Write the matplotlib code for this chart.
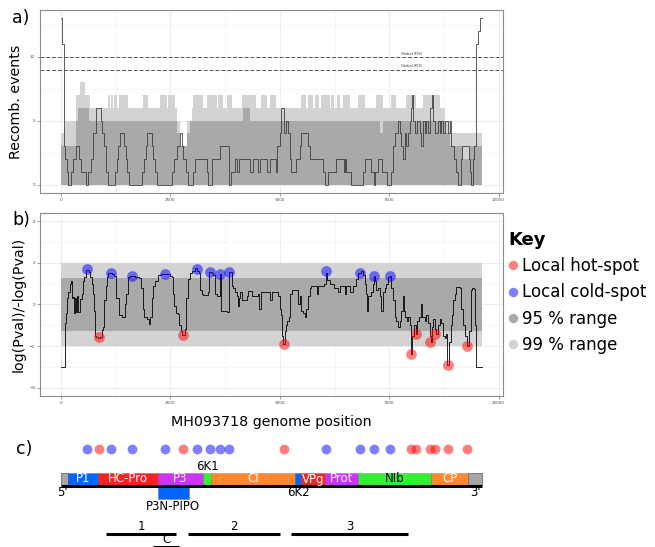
import numpy as np
import matplotlib
matplotlib.use('Agg')
import matplotlib.pyplot as plt
from matplotlib.patches import Rectangle
from matplotlib.lines import Line2D

# ---- data ----
genome_end = 9620

# a) observed recombination events (step, start position -> count)
rec_pos = [0, 30, 76, 91, 129, 167, 228, 282, 335, 411, 457, 563, 624, 685, 738, 791, 913, 944, 989, 1020,
           1081, 1233, 1271, 1309, 1347, 1446, 1476, 1507, 1553, 1857, 1903, 1933, 1956, 2070, 2108, 2146,
           2184, 2527, 2588, 2641, 2717, 2755, 2793, 2846, 2907, 3021, 3059, 3326, 3364, 3440, 3630, 3843,
           3874, 3973, 4027, 4072, 4315, 4391, 4505, 4543, 4696, 4772, 4909, 4939, 5000, 5038, 5100, 5140,
           5190, 5244, 5266, 5380, 5457, 5495, 5647, 5685, 5989, 6027, 6104, 6294, 6461, 6484, 6510, 6636,
           6903, 6956, 7093, 7154, 7184, 7245, 7336, 7458, 7534, 7587, 7626, 7702, 7740, 7778, 7816, 7854,
           7892, 7930, 7968, 7991, 8021, 8044, 8082, 8143, 8196, 8219, 8272, 8311, 8349, 8387, 8425, 8478,
           8508, 8539, 8615, 8653, 8691, 8729, 8767, 8843, 8881, 8919, 8980, 9033, 9071, 9132, 9163, 9315,
           9338, 9376, 9414, 9440, 9480, 9540, 9580, 9620]
rec_cnt = [13, 11, 3, 2, 1, 0, 1, 2, 3, 2, 1, 0, 1, 2, 4, 6, 5, 4, 3, 1,
           0, 1, 2, 3, 4, 3, 2, 1, 0, 1, 2, 3, 4, 3, 2, 1,
           0, 1, 2, 3, 4, 3, 2, 1, 0, 1, 2, 1, 0, 2, 3, 0,
           1, 2, 1, 2, 1, 2, 1, 2, 1, 2, 1, 3, 4, 6, 4, 5,
           4, 2, 1, 2, 3, 4, 3, 2, 1, 0, 1, 2, 1, 2, 1, 0,
           1, 2, 1, 0, 1, 2, 1, 0, 1, 3, 4, 5, 4, 3, 2, 4,
           3, 4, 5, 6, 7, 5, 4, 5, 4, 3, 5, 4, 5, 4, 6, 7,
           5, 4, 5, 4, 5, 4, 5, 4, 5, 3, 2, 1, 0, 2, 3, 2,
           1, 0, 2, 3, 11, 12, 13, 13]

# simulated ranges (upper bounds), step
r99_pos = [0, 90, 343, 434, 548, 662, 1081, 1120, 1150, 1190, 1220, 1290, 1320, 1537, 1880, 1994, 2260,
           2412, 2450, 2603, 2640, 2720, 2870, 2983, 3021, 3250, 3326, 3554, 3592, 3691, 3782, 3896, 4125,
           4467, 4581, 4696, 4772, 4924, 5495, 5600, 5650, 5760, 5800, 5900, 5950, 6142, 6160, 6230, 6300,
           6380, 6450, 6598, 6788, 6941, 7207, 7359, 7550, 7664, 7892, 8120, 8272, 8653, 8767, 8900, 9620]
r99_hi = [4, 5, 7, 8, 7, 6, 7, 6, 7, 6, 7, 6, 7, 6, 7, 6, 7,
          6, 7, 6, 5, 3, 5, 6, 7, 6, 7, 6, 7, 6, 7, 6, 7,
          6, 7, 6, 7, 6, 7, 6, 7, 6, 7, 6, 7, 6, 7, 6, 7,
          6, 7, 6, 7, 6, 7, 6, 7, 6, 7, 6, 7, 6, 5, 4, 4]
r95_pos = [0, 340, 396, 647, 2640, 2720, 2870, 2950, 4163, 4315, 7283, 7359, 8767, 8900, 9186, 9338, 9620]
r95_hi = [3, 5, 6, 5, 4, 3, 4, 5, 6, 5, 4, 5, 4, 3, 2, 3, 3]
global95 = 9
global99 = 10

# b) log(Pval)/-log(Pval)
lp_pos = [0, 91, 114, 137, 167, 205, 228, 259, 282, 297, 320, 342, 365, 388, 426, 441, 472, 502, 533, 563,
          639, 670, 700, 731, 761, 784, 807, 837, 883, 928, 967, 989, 1020, 1050, 1081, 1172, 1218, 1256,
          1309, 1332, 1385, 1446, 1469, 1492, 1522, 1568, 1689, 1781, 1826, 1865, 1903, 1963, 2002, 2032,
          2070, 2108, 2146, 2207, 2283, 2435, 2489, 2527, 2557, 2588, 2626, 2679, 2702, 2732, 2763, 2831,
          2862, 2892, 2938, 2998, 3059, 3113, 3151, 3174, 3212,
          3250, 3326, 3364, 3386, 3440, 3478, 3508, 3554, 3615, 3630, 3653, 3782, 3828, 3843, 3897, 3935,
          3973, 4011, 4033, 4056, 4087, 4125, 4239, 4277, 4353, 4505, 4528, 4559, 4734, 4772, 4810, 4962,
          5000, 5030, 5053, 5076, 5114, 5137, 5167, 5213, 5244, 5274, 5396, 5419, 5457, 5495, 5533, 5571,
          5609, 5647, 5685, 5723, 5822, 5852, 5883, 6020, 6050, 6088, 6142, 6240, 6332, 6370, 6461, 6491,
          6522,
          6598, 6674, 6750, 6789, 6865, 6903, 6941, 6979, 6994, 7017, 7093, 7131, 7154, 7184, 7207, 7245,
          7283, 7306, 7344, 7359, 7397, 7435, 7473, 7511, 7549, 7587, 7626, 7664, 7702, 7740, 7778, 7816,
          7839, 7869, 7900, 7930, 7968, 7998, 8029, 8067, 8105, 8143, 8189, 8227, 8257, 8311, 8349, 8387,
          8425, 8447, 8478, 8508, 8539, 8577, 8615, 8653, 8691, 8729, 8767, 8805, 8828, 8858, 8904, 8935,
          8965, 8995, 9033, 9110, 9148, 9186, 9224, 9277, 9330, 9376, 9399, 9444, 9467, 9490, 9620]
lp_val = [-3, -0.9, -0.4, 0.3, 0.6, 1.0, 1.1, 0.3, 0.35, -0.4, 0.3, -0.35, 0.4, -0.35, -0.35, 0.25, 0.5, 1.1, 1.3, 1.65,
          1.55, 1.3, 1.0, 0.5, -0.3, -1.5, -1.55, -1.62, -1.55, -1.25, -1.1, 0.2, 0.9, 1.3, 1.5, 1.45, 1.35, 0.3,
          0.3, -0.5, -0.6, -0.6, 0.0, 0.5, 1.3, 1.35, 1.3, 1.25, 0.8, -0.2, -0.6, -0.7, -0.95, -0.6,
          0.3, 0.9, 1.1, 1.4, 1.45, 1.45, 1.35, 1.3, 0.5, -0.1, -0.4, -0.45, -1.0, -1.3, -1.45, -1.2,
          0.3, 1.2, 1.5, 1.6, 1.75, 1.6, 1.5, 0.7, 0.5,
          0.45, 0.45, 0.6, 1.55, 1.5, 1.4, 0.5, 0.4, 0.4, 1.45, -0.3, -0.35, -0.3, 1.55, 0.9, 0.8,
          0.6, 0.4, -0.1, 0.3, 0.6, 0.2, 0.4, 0.65, 0.4, 0.5, -0.2, 0.6, 0.6, 0.2, 0.6, 0.4,
          -0.2, -0.5, -1.5, -1.9, -1.3, -1.0, -0.8, -0.6, 0.5, 0.7, 0.7, 0.0, 0.4, -0.3, -0.4, -0.6,
          -0.2, 0.4, 0.8, 0.9, 0.9, 0.5, 0.9, 1.0, 1.5, 1.15, 1.0, 0.8, 0.6, 0.9, 0.9, 0.5,
          0.9,
          0.6, 0.9, 1.2, 1.5, 1.6, 1.4, 1.0, 0.5, -0.3, 0.4, 0.6, 1.0, 1.35, 1.1, 0.7, 0.8,
          0.4, -0.3, -0.3, 0.6, 0.8, 1.0, 1.3, 1.35, 0.8, 0.2, -0.6, -0.8, -1.1, -0.8, -0.3, 0.4,
          -0.3, -0.6, -0.8, -0.6, -1.0, -2.4, -1.5, -1.0, -1.4, -0.8, -0.6, 0.0, -0.6, -0.8, -0.5, -0.9,
          -1.5, -1.8, -1.1, -0.7, -1.2, -1.4, -1.0, -0.7, -0.9, -1.5, -1.6, -1.4, -2.9, -1.8, -1.0, -0.5,
          0.2, 0.5, 0.85, 0.8, -0.2, -1.0, -1.5, -2.0, -1.3, 0.7, 0.8, 0.75, -1.0, -3.0, -3.0]
range95 = 1.28
range99 = 2.0

hot_x = [861, 2779, 5091, 7998, 8112, 8441, 8555, 8840, 9285]
hot_y = [-1.59, -1.45, -1.89, -2.37, -1.41, -1.82, -1.41, -2.92, -1.99]
cold_x = [600, 1142, 1628, 2375, 3098, 3409, 3623, 3842, 6050, 6842, 7153, 7518]
cold_y = [1.68, 1.49, 1.36, 1.46, 1.68, 1.54, 1.44, 1.54, 1.59, 1.49, 1.35, 1.35]

# c) genome map
genes = ["5'UTR", 'P1', 'HC-Pro', 'P3', '6K1', 'CI', '6K2', 'VPg', 'Prot', 'NIb', 'CP', "3'UTR"]
gene_start = [0, 150, 840, 2205, 3250, 3430, 5350, 5490, 6040, 6780, 8465, 9310]
gene_end = [150, 840, 2205, 3250, 3430, 5350, 5490, 6040, 6780, 8465, 9310, 9620]
gene_col = ['#A6A6A6', '#0066FF', '#F22424', '#CC33F5', '#33F033', '#FF8833',
            '#0066FF', '#F22424', '#CC33F5', '#33F033', '#FF8833', '#A6A6A6']
pipo = (2205, 2922)
regions = ['1', '2', '3', 'C']
region_start = [1037, 2913, 5247, 2112]
region_end = [2625, 4995, 7934, 2700]

XLIM = (-481, 10101)

fig = plt.figure(figsize=(6.55, 5.47), dpi=100)


def style(ax, yt, ymin):
	ax.set_xlim(*XLIM)
	ax.set_xticks([0, 2500, 5000, 7500, 10000])
	ax.set_xticks([1250, 3750, 6250, 8750], minor=True)
	ax.set_yticks(yt)
	ax.set_yticks(ymin, minor=True)
	ax.grid(which='major', color='#EBEBEB', lw=0.7)
	ax.grid(which='minor', color='#F3F3F3', lw=0.5)
	ax.set_axisbelow(True)
	for s in ax.spines.values():
		s.set_color('#8C8C8C')
		s.set_linewidth(0.8)
	ax.tick_params(which='major', labelsize=3, labelcolor='#4D4D4D', length=2, width=0.4, color='#555555', pad=1.5)
	ax.tick_params(which='minor', length=0)


# ---- a) ----
ax_a = fig.add_axes([40/655, 1-193/547, 463/655, 183/547])
ax_a.fill_between(r99_pos, 0, r99_hi, step='post', color='#D3D3D3', lw=0)
ax_a.fill_between(r95_pos, 0, r95_hi, step='post', color='#A9A9A9', lw=0)
ax_a.step(rec_pos, rec_cnt, where='post', color='#333333', lw=0.65, alpha=0.85)
ax_a.axhline(global99, color='#555555', ls=(0, (4, 2)), lw=0.7)
ax_a.axhline(global95, color='#555555', ls=(0, (4, 2)), lw=0.7)
ax_a.text(8000, global99 + 0.25, 'Global 99%', fontsize=2.6, color='#333333', ha='center', va='center')
ax_a.text(8000, global95 + 0.3, 'Global 95%', fontsize=2.6, color='#333333', ha='center', va='center')
ax_a.set_ylim(-0.65, 13.65)
style(ax_a, [0, 5, 10], [2.5, 7.5, 12.5])
ax_a.set_ylabel('Recomb. events', fontsize=10.3)
ax_a.yaxis.set_label_coords(-0.036, 0.5)

# ---- b) ----
ax_b = fig.add_axes([40/655, 1-396/547, 463/655, 183.3/547])
ax_b.fill_between([0, genome_end], -range99, range99, color='#D3D3D3', lw=0)
ax_b.fill_between([0, genome_end], -range95, range95, color='#A9A9A9', lw=0)
ax_b.step(lp_pos, lp_val, where='post', color='black', lw=0.6)
ax_b.scatter(hot_x, hot_y, s=60, color='red', alpha=0.5, lw=0, zorder=3)
ax_b.scatter(cold_x, cold_y, s=60, color='blue', alpha=0.5, lw=0, zorder=3)
ax_b.set_ylim(-4.4, 4.4)
style(ax_b, [-4, -2, 0, 2, 4], [-3, -1, 1, 3])
ax_b.set_ylabel('log(Pval)/-log(Pval)', fontsize=10.3)
ax_b.yaxis.set_label_coords(-0.030, 0.5)
ax_b.set_xlabel('MH093718 genome position', fontsize=10.3, labelpad=7)

handles = [Line2D([], [], marker='o', ls='', color='red', alpha=0.5, markersize=6.8, markeredgewidth=0),
           Line2D([], [], marker='o', ls='', color='blue', alpha=0.5, markersize=6.8, markeredgewidth=0),
           Line2D([], [], marker='o', ls='', color='#A9A9A9', markersize=6.8, markeredgewidth=0),
           Line2D([], [], marker='o', ls='', color='#D3D3D3', markersize=6.8, markeredgewidth=0)]
leg = fig.legend(handles, ['Local hot-spot', 'Local cold-spot', '95 % range', '99 % range'],
                 loc='upper left', bbox_to_anchor=(508/655, 1-231/547), frameon=False, fontsize=12,
                 title='Key', title_fontproperties={'weight': 'bold', 'size': 13}, alignment='left',
                 handlelength=0.6, handletextpad=0.25, labelspacing=0.49, borderpad=0, borderaxespad=0)

# ---- c) ----
ax_c = fig.add_axes([40/655, 0, 463/655, 122/547])
ax_c.set_xlim(*XLIM)
ax_c.set_ylim(547, 425)
ax_c.axis('off')
ax_c.scatter(hot_x, [449]*len(hot_x), s=50, color='red', alpha=0.5, lw=0)
ax_c.scatter(cold_x, [449]*len(cold_x), s=50, color='blue', alpha=0.5, lw=0)
for g, a, b, col in zip(genes, gene_start, gene_end, gene_col):
	ec = '#6E6E6E' if 'UTR' in g else '#00000030'
	ax_c.add_patch(Rectangle((a, 473), b - a, 11.5, fc=col, ec=ec, lw=0.6))
	if g in ('6K1', '6K2') or 'UTR' in g:
		continue
	ax_c.text((a + b)/2, 479, g, fontsize=8.5, color='black' if g == 'NIb' else 'white',
	          ha='center', va='center')
ax_c.plot([0, genome_end], [485.5, 485.5], color='black', lw=2.2, solid_capstyle='butt')
ax_c.text(3340, 467, '6K1', fontsize=8.5, ha='center', va='center')
ax_c.text(5420, 493, '6K2', fontsize=8.5, ha='center', va='center')
ax_c.text(40, 493, "5'", fontsize=8.5, ha='center', va='center')
ax_c.text(9470, 493, "3'", fontsize=8.5, ha='center', va='center')
ax_c.add_patch(Rectangle((pipo[0], 487), pipo[1] - pipo[0], 12, fc='#0066FF', ec='#00000030', lw=0.6))
ax_c.text(sum(pipo)/2, 506, 'P3N-PIPO', fontsize=8.5, ha='center', va='center')
for r, a, b in zip(regions, region_start, region_end):
	yl = 546.5 if r == 'C' else 534
	ax_c.plot([a, b], [yl, yl], color='black', lw=2.2, solid_capstyle='butt', clip_on=False)
	ax_c.text((a + b)/2, yl - 7, r, fontsize=8.5, ha='center', va='center')

fig.text(21/655, 1-18/547, 'a)', fontsize=12.5, ha='center', va='center')
fig.text(21/655, 1-220/547, 'b)', fontsize=12.5, ha='center', va='center')
fig.text(24/655, 1-449/547, 'c)', fontsize=12.5, ha='center', va='center')

fig.savefig('out.png', dpi=100)
